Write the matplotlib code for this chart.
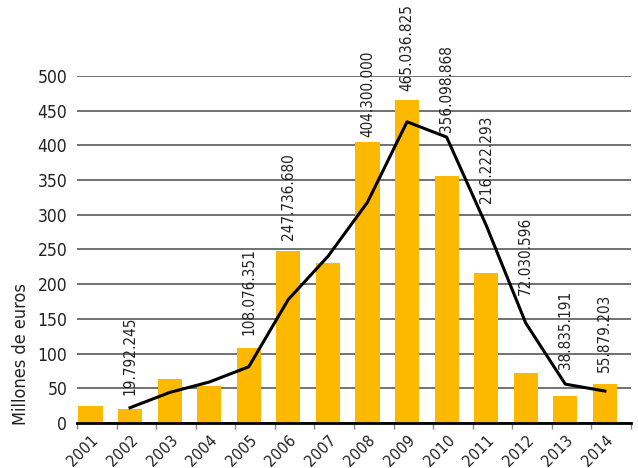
import numpy as np
import matplotlib
matplotlib.use('Agg')
import matplotlib.pyplot as plt

# data (millones de euros)
years = ['2001', '2002', '2003', '2004', '2005', '2006', '2007',
         '2008', '2009', '2010', '2011', '2012', '2013', '2014']
bars = [25, 19.792245, 64, 54, 108.076351, 247.736680, 231,
        404.300000, 465.036825, 356.098868, 216.222293, 72.030596,
        38.835191, 55.879203]
# trend line, starts in 2002
line_years = years[1:]
line_vals = [22, 44, 59, 81, 178, 240, 318, 434, 412, 285, 144, 56, 46]
# value labels shown above bars
label_idx = [1, 4, 5, 7, 8, 9, 10, 11, 12, 13]
label_txt = ['19.792.245', '108.076.351', '247.736.680', '404.300.000',
             '465.036.825', '356.098.868', '216.222.293', '72.030.596',
             '38.835.191', '55.879.203']
label_pad = [9, 9, 8, 4, 7, 4, 16, 20, 11, 9]   # points, layout only

plt.rcParams['font.family'] = ['DejaVu Sans']
plt.rcParams['font.stretch'] = 'condensed'

fig = plt.figure(figsize=(6.38, 4.68), dpi=100)
ax = fig.add_axes([77/638, 1-423/468, 554/638, 347/468])

n = len(years)
x = np.arange(n)
off = 0.34
ax.bar(x + off, bars, width=0.61, color='#fcb900', zorder=2)

lx = np.array([years.index(y) for y in line_years]) + off
ax.plot(lx, line_vals, color='black', lw=2.2, zorder=3)

for i, t, p in zip(label_idx, label_txt, label_pad):
    yv = bars[i]
    if years[i] in line_years:
        yv = max(yv, line_vals[line_years.index(years[i])])
    ax.annotate(t, (i + off, yv), xytext=(0, p), textcoords='offset points',
                rotation=90, ha='center', va='bottom', fontsize=11,
                color='#222222', annotation_clip=False)

ax.set_xlim(0, n)
ax.set_ylim(0, 500)
ax.set_yticks(np.arange(0, 501, 50))
ax.tick_params(axis='y', length=0, pad=7, labelsize=12.5, labelcolor='#222222')
ax.yaxis.grid(True, color='#666666', lw=1.3, zorder=0)
ax.set_axisbelow(True)

ax.set_xticks(x + 0.62)
ax.set_xticklabels(years, rotation=45, ha='right', va='top', fontsize=11.5, color='#222222')
ax.tick_params(axis='x', which='major', length=0, pad=7)
ax.set_xticks(np.arange(0, n + 1), minor=True)
ax.tick_params(axis='x', which='minor', length=4, color='#888888', width=1)

for s in ['top', 'right', 'left']:
    ax.spines[s].set_visible(False)
ax.spines['bottom'].set_linewidth(2)
ax.spines['bottom'].set_zorder(4)

fig.text(21/638, 1-354/468, 'Millones de euros', rotation=90, ha='center', va='center',
         fontsize=13, color='#222222')

fig.savefig('out.png', dpi=100)
